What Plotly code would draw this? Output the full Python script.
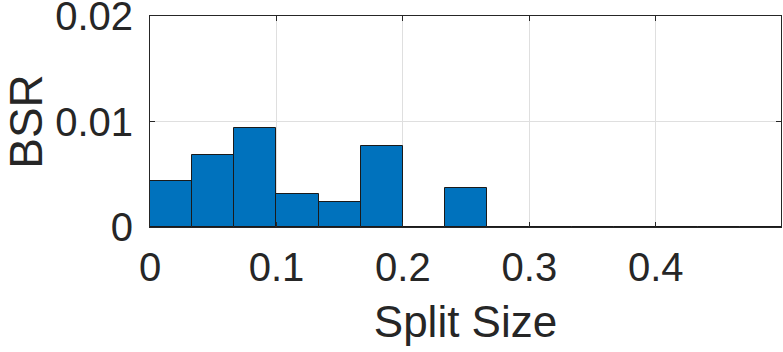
import plotly.graph_objects as go

bin_width = 1 / 30
bin_starts = [i * bin_width for i in range(15)]
bsr_values = [0.00433, 0.0068, 0.00935, 0.00316, 0.00234, 0.0077, 0.0, 0.00373,
              0.0, 0.0, 0.0, 0.0, 0.0, 0.0, 0.0]
x_ticks = [0, 0.1, 0.2, 0.3, 0.4]
x_tick_labels = ["0", "0.1", "0.2", "0.3", "0.4"]
y_ticks = [0, 0.01, 0.02]
y_tick_labels = ["0", "0.01", "0.02"]

centers = [s + bin_width / 2 for s in bin_starts]

fig = go.Figure()
fig.add_trace(go.Bar(
    x=centers, y=bsr_values, width=[bin_width] * len(centers),
    marker=dict(color="#0072BD", line=dict(color="#1a1a1a", width=1)),
    showlegend=False,
))

font_family = "Liberation Sans, Arial, sans-serif"
axis_col = "#262626"
fig.update_layout(
    width=783, height=352,
    margin=dict(l=150, r=2, t=16, b=125),
    plot_bgcolor="white", paper_bgcolor="white",
    font=dict(family=font_family, color=axis_col, size=40),
    bargap=0,
)
fig.update_xaxes(
    range=[0, 0.499], tickvals=x_ticks, ticktext=x_tick_labels,
    automargin="bottom",
    showgrid=True, gridcolor="#dfdfdf", gridwidth=1,
    showline=True, linecolor=axis_col, linewidth=1, mirror="ticks",
    ticks="inside", ticklen=5, tickcolor=axis_col,
    tickfont=dict(size=40, color=axis_col),
    ticklabelstandoff=5,
    ticklabeloverflow="allow",
    zeroline=False,
    title=dict(text="Split Size", font=dict(size=44, color=axis_col), standoff=18),
)
fig.update_yaxes(
    range=[0, 0.02], tickvals=y_ticks, ticktext=y_tick_labels,
    automargin="left",
    showgrid=True, gridcolor="#dfdfdf", gridwidth=1,
    showline=True, linecolor=axis_col, linewidth=1, mirror="ticks",
    ticks="inside", ticklen=5, tickcolor=axis_col,
    tickfont=dict(size=40, color=axis_col),
    ticklabelstandoff=8,
    ticklabeloverflow="allow",
    zeroline=False,
    title=dict(text="BSR", font=dict(size=46, color=axis_col), standoff=12),
)

fig.write_html("out.html")
